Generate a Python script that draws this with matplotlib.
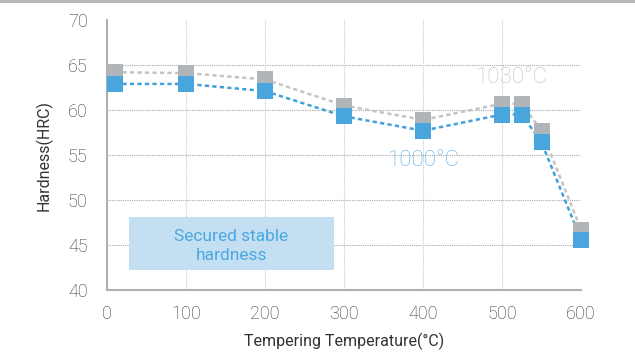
import matplotlib
matplotlib.use("Agg")
import matplotlib.pyplot as plt
from matplotlib.patches import Rectangle

plt.rcParams['font.family'] = ['Roboto', 'DejaVu Sans']
plt.rcParams['font.weight'] = 'light'

# data
temps = [10, 100, 200, 300, 400, 500, 525, 550, 600]
hrc_1030 = [64.2, 64.1, 63.4, 60.5, 58.9, 60.7, 60.7, 57.7, 46.7]
hrc_1000 = [62.9, 62.9, 62.1, 59.3, 57.7, 59.5, 59.5, 56.4, 45.6]
x_ticks = [0, 100, 200, 300, 400, 500, 600]
y_ticks = [40, 45, 50, 55, 60, 65, 70]

gray = '#b1b5ba'
blue = '#48a6dd'
line_gray = '#c4c4c4'
line_blue = '#3fa0dc'
text_col = '#333333'

fig = plt.figure(figsize=(6.35, 3.53), dpi=100)
ax = fig.add_axes([0.1685, 0.1785, 0.7465, 0.7648])

# thin gray band on top of the picture
fig.patches.append(Rectangle((0, 0.991), 1, 0.009, transform=fig.transFigure,
                             facecolor='#b9b9b9', edgecolor='none'))

dash = (0, (1.7, 1.3))
ax.plot(temps, hrc_1030, color=line_gray, lw=1.8, linestyle=dash, zorder=2, clip_on=False)
ax.plot(temps, hrc_1000, color=line_blue, lw=1.8, linestyle=dash, zorder=3, clip_on=False)
ax.plot(temps, hrc_1030, 's', color=gray, ms=12.2, mew=0, zorder=4, clip_on=False)
ax.plot(temps, hrc_1000, 's', color=blue, ms=12.2, mew=0, zorder=5, clip_on=False)

ax.text(513, 63.6, '1030°C', color='#c2c2c2', fontsize=16, ha='center', va='center')
ax.text(401, 54.4, '1000°C', color='#5aaee0', fontsize=16, ha='center', va='center')

# "secured stable hardness" box
ax.add_patch(Rectangle((28, 42.2), 259, 5.9, facecolor='#c5dff2', edgecolor='none', zorder=1))
ax.text(157, 44.9, 'Secured stable\nhardness', color='#4aa8e0', fontsize=12.5,
        fontweight='normal', ha='center', va='center', linespacing=1.3, zorder=2)

ax.set_xlim(0, 600)
ax.set_ylim(40, 70)
ax.set_xticks(x_ticks)
ax.set_yticks(y_ticks)
ax.tick_params(length=0, labelsize=13, colors=text_col)
ax.tick_params(axis='y', pad=14)
ax.tick_params(axis='x', pad=11)

for y in [45, 50, 55, 60, 65]:
    ax.axhline(y, color='#a8a8a8', lw=0.8, linestyle=(0, (1, 1)), zorder=0)
for x in [100, 200, 300, 400, 500]:
    ax.plot([x, x], [40, 70], color='#c8c8c8', lw=0.8, linestyle=(0, (1, 1)), zorder=0)

for s in ['top', 'right']:
    ax.spines[s].set_visible(False)
for s in ['left', 'bottom']:
    ax.spines[s].set_color('#b0b0b0')
    ax.spines[s].set_linewidth(1.5)

ax.set_xlabel('Tempering Temperature(°C)', fontsize=11.5, color=text_col, labelpad=7)
ax.set_ylabel('Hardness(HRC)', fontsize=11.5, color=text_col, labelpad=11)

fig.savefig('out.png', dpi=100)
